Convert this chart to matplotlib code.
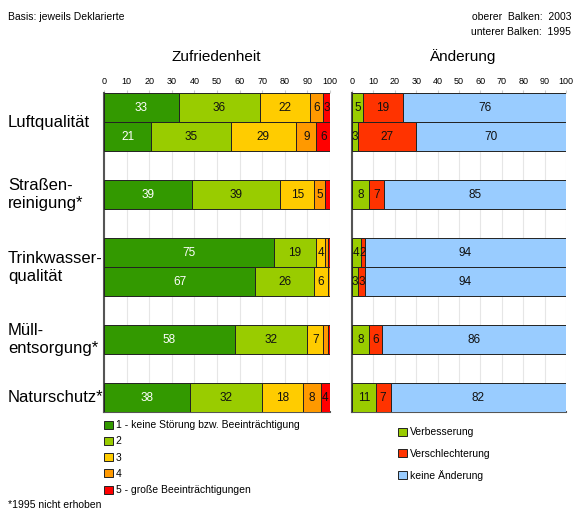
import numpy as np
import matplotlib
matplotlib.use('Agg')
from matplotlib import pyplot as plt

# Kategorien und Slots (oben 2003, unten 1995; Lücke dazwischen)
kategorien = ['Luftqualität', 'Straßen-\nreinigung*', 'Trinkwasser-\nqualität', 'Müll-\nentsorgung*', 'Naturschutz*']
# Slot-Positionen der Balken (0 = oben)
slots = [0, 1, 3, 5, 6, 8, 10]
label_pos = [0.5, 3, 5.5, 8, 10]

# Zufriedenheit: Stufen 1..5
z1 = [33, 21, 39, 75, 67, 58, 38]
z2 = [36, 35, 39, 19, 26, 32, 32]
z3 = [22, 29, 15, 4, 6, 7, 18]
z4 = [6, 9, 5, 1, 1, 2, 8]
z5 = [3, 6, 2, 1, 0, 1, 4]

# Änderung
verbesserung = [5, 3, 8, 4, 3, 8, 11]
verschlechterung = [19, 27, 7, 2, 3, 6, 7]
keine_aenderung = [76, 70, 85, 94, 94, 86, 82]

z_farben = ['#339900', '#99cc00', '#ffcc00', '#ff9900', '#ff0000']
z_namen = ['1 - keine Störung bzw. Beeinträchtigung', '2', '3', '4', '5 - große Beeinträchtigungen']
a_farben = ['#99cc00', '#ff3300', '#99ccff']
a_namen = ['Verbesserung', 'Verschlechterung', 'keine Änderung']

plt.rcParams['font.family'] = ['Liberation Sans', 'DejaVu Sans']

fig = plt.figure(figsize=(5.73, 5.11), dpi=100)
ax1 = fig.add_axes([104 / 573, 0.1937, 226 / 573, 0.624])
ax2 = fig.add_axes([352 / 573, 0.1937, 214 / 573, 0.624])


def stapel(ax, reihen, farben, min_label=2):
    links = np.zeros(len(slots))
    patches = []
    for k, (werte, farbe) in enumerate(zip(reihen, farben)):
        werte = np.array(werte, dtype=float)
        b = ax.barh(slots, werte, left=links, height=1.0, color=farbe,
                    edgecolor='#222222', linewidth=0.7, zorder=3)
        patches.append(b)
        for y, l, w in zip(slots, links, werte):
            if w >= min_label:
                farbe_txt = 'white' if farbe == '#339900' else '#111111'
                ax.text(l + w / 2, y, f'{int(w)}', ha='center', va='center',
                        fontsize=8.5, color=farbe_txt, zorder=4)
        links += werte
    ax.set_xlim(0, 100)
    ax.set_ylim(10.5, -0.5)
    ax.set_xticks(range(0, 101, 10))
    ax.xaxis.tick_top()
    ax.tick_params(axis='x', labelsize=6.5, length=2, pad=3, color='#cccccc')
    ax.set_yticks([])
    ax.grid(axis='x', color='#e6e6e6', linewidth=0.8, zorder=0)
    for s in ['top', 'right']:
        ax.spines[s].set_visible(False)
    for s in ['left', 'bottom']:
        ax.spines[s].set_color('#555555')
        ax.spines[s].set_linewidth(1.5)
    return patches


p1 = stapel(ax1, [z1, z2, z3, z4, z5], z_farben, min_label=3)
p2 = stapel(ax2, [verbesserung, verschlechterung, keine_aenderung], a_farben, min_label=2)

# Kategorie-Beschriftungen
for name, y in zip(kategorien, label_pos):
    yf = ax1.transData.transform((0, y))[1]
    fig.text(8 / 573, fig.transFigure.inverted().transform((0, yf))[1], name,
             ha='left', va='center', fontsize=12, linespacing=1.25)

fig.text(216 / 573, 1 - 57 / 511, 'Zufriedenheit', ha='center', va='center', fontsize=11)
fig.text(462 / 573, 1 - 57 / 511, 'Änderung', ha='center', va='center', fontsize=11)
fig.text(8 / 573, 1 - 17 / 511, 'Basis: jeweils Deklarierte', ha='left', va='center', fontsize=7.5)
fig.text(571 / 573, 1 - 17 / 511, 'oberer  Balken:  2003', ha='right', va='center', fontsize=7.5)
fig.text(571 / 573, 1 - 32 / 511, 'unterer Balken:  1995', ha='right', va='center', fontsize=7.5)
fig.text(8 / 573, 1 - 505 / 511, '*1995 nicht erhoben', ha='left', va='center', fontsize=7.5)

fig.legend([p[0] for p in p1], z_namen, loc='upper left',
           bbox_to_anchor=(100 / 573, 1 - 416 / 511), frameon=False,
           fontsize=7.5, handlelength=0.8, handleheight=0.8,
           handletextpad=0.3, labelspacing=0.6, borderaxespad=0)
fig.legend([p[0] for p in p2], a_namen, loc='upper left',
           bbox_to_anchor=(394 / 573, 1 - 423 / 511), frameon=False,
           fontsize=7.5, handlelength=0.8, handleheight=0.8,
           handletextpad=0.3, labelspacing=1.1, borderaxespad=0)

plt.savefig('out.png', dpi=100)
